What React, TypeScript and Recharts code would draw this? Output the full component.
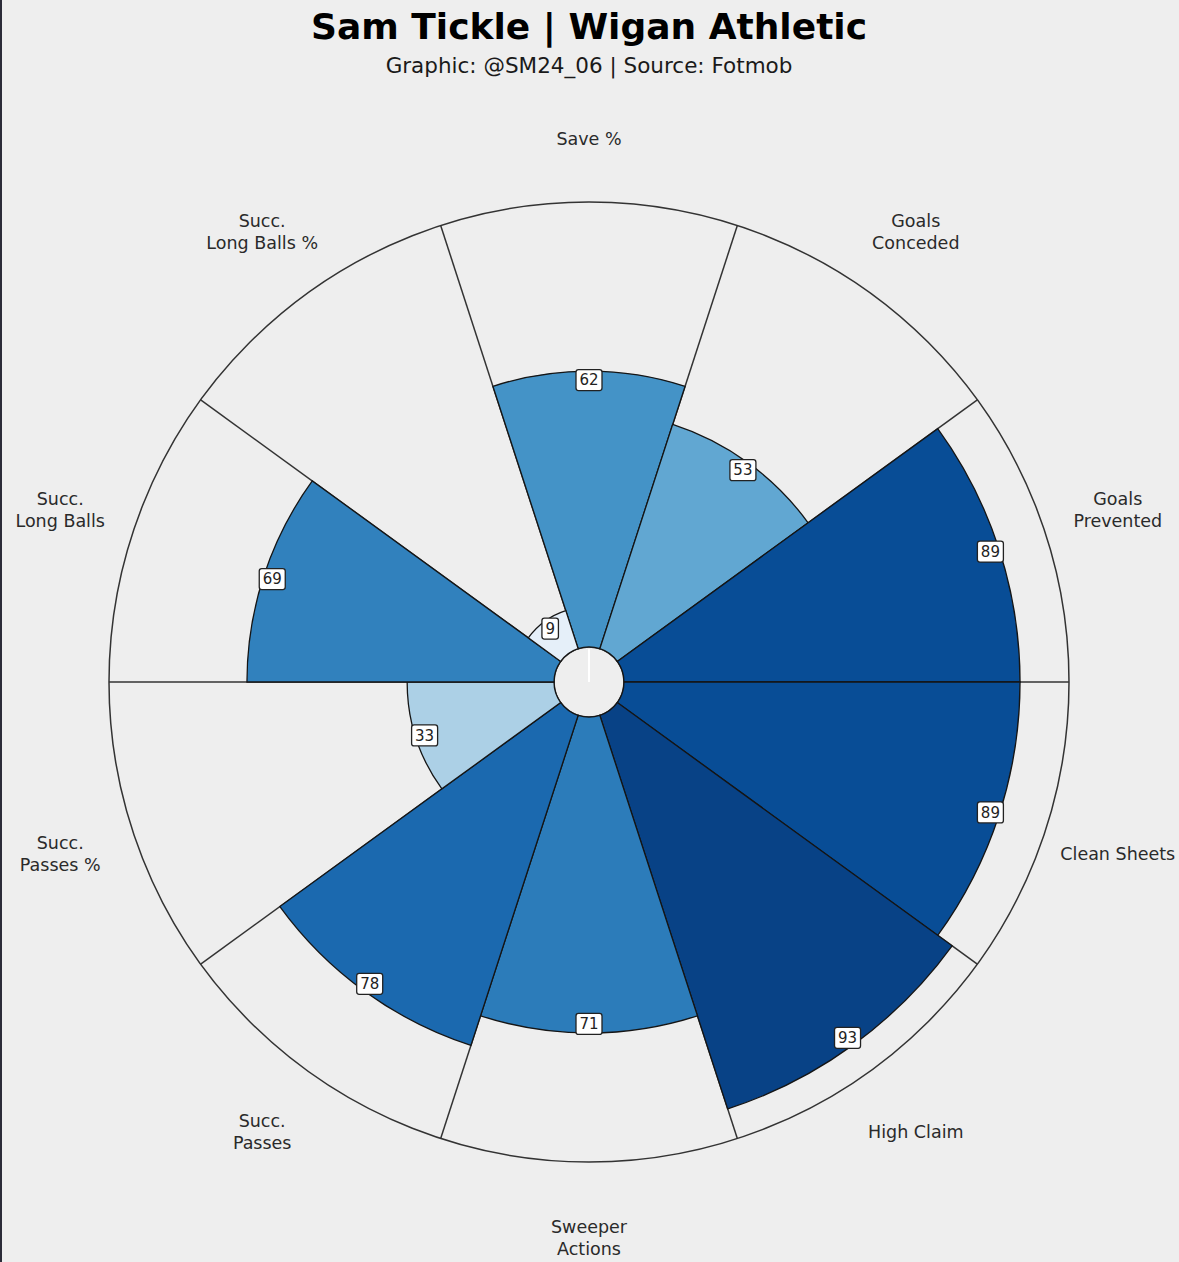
import React from 'react';
import { RadialBarChart, RadialBar, PolarAngleAxis, PolarRadiusAxis, PolarGrid, Sector, LabelList, Cell } from 'recharts';

const categories = ['Save %', 'Goals Conceded', 'Goals Prevented', 'Clean Sheets', 'High Claim', 'Sweeper Actions', 'Succ. Passes', 'Succ. Passes %', 'Succ. Long Balls', 'Succ. Long Balls %'];
const categoryLines = [['Save %'], ['Goals', 'Conceded'], ['Goals', 'Prevented'], ['Clean Sheets'], ['High Claim'], ['Sweeper', 'Actions'], ['Succ.', 'Passes'], ['Succ.', 'Passes %'], ['Succ.', 'Long Balls'], ['Succ.', 'Long Balls %']];
const percentiles = [62, 53, 89, 89, 93, 71, 78, 33, 69, 9];

const TITLE = 'Sam Tickle | Wigan Athletic';
const SUBTITLE = 'Graphic: @SM24_06 | Source: Fotmob';

const BLUES = ['#f7fbff', '#deebf7', '#c6dbef', '#9ecae1', '#6baed6', '#4292c6', '#2171b5', '#08519c', '#08306b'];
function hexToRgb(h: string) {
  return [parseInt(h.slice(1, 3), 16), parseInt(h.slice(3, 5), 16), parseInt(h.slice(5, 7), 16)];
}
function blues(t: number) {
  const x = Math.max(0, Math.min(1, t)) * (BLUES.length - 1);
  const i = Math.min(BLUES.length - 2, Math.floor(x));
  const f = x - i;
  const a = hexToRgb(BLUES[i]);
  const b = hexToRgb(BLUES[i + 1]);
  const c = a.map((v, k) => Math.round(v + (b[k] - v) * f));
  return `rgb(${c[0]},${c[1]},${c[2]})`;
}

const data = categories.map((name, i) => ({ name, value: percentiles[i] }));

const FONT = '"DejaVu Sans", sans-serif';
const RAD = Math.PI / 180;
const HALF_BAND = 360 / categories.length / 2;

const BarShape = (props: any) => {
  const { cx, cy, innerRadius, outerRadius, startAngle, endAngle, fill } = props;
  const mid = (startAngle + endAngle) / 2;
  const isTop = Math.abs(Math.sin(mid * RAD) - 1) < 1e-3;
  return (
    <g>
      <Sector
        cx={cx}
        cy={cy}
        innerRadius={innerRadius}
        outerRadius={outerRadius}
        startAngle={startAngle}
        endAngle={endAngle}
        fill={fill}
        stroke="#151515"
        strokeWidth={1.3}
      />
      {isTop ? (
        <line x1={cx} y1={cy} x2={cx} y2={cy - innerRadius + 2} stroke="#ffffff" strokeWidth={2} />
      ) : null}
    </g>
  );
};

const ValueLabel = (props: any) => {
  const vb = props.viewBox || {};
  const { cx, cy, outerRadius, startAngle, endAngle } = vb;
  if (cx == null) return null;
  const mid = (startAngle + endAngle) / 2;
  const r = outerRadius - 9;
  const x = cx + r * Math.cos(-mid * RAD);
  const y = cy + r * Math.sin(-mid * RAD);
  const txt = String(props.value);
  const w = txt.length * 9.5 + 7;
  const h = 21;
  return (
    <g>
      <rect x={x - w / 2} y={y - h / 2} width={w} height={h} rx={2.5} ry={2.5} fill="#ffffff" stroke="#222" strokeWidth={1.3} />
      <text x={x} y={y + 5.3} textAnchor="middle" fontFamily={FONT} fontSize={15} fill="#222">
        {txt}
      </text>
    </g>
  );
};

const AngleTick = (props: any) => {
  const { payload, cx, cy, index } = props;
  const i = categories.indexOf(payload.value);
  const lines = categoryLines[i >= 0 ? i : index] || [String(payload.value)];
  const angle = payload.coordinate + HALF_BAND;
  const r = 556;
  const x = cx + r * Math.cos(-angle * RAD);
  const y = cy + r * Math.sin(-angle * RAD);
  const lh = 22;
  const nudge = lines.length === 1 && Math.sin(angle * RAD) > 0.95 ? 13 : 0;
  const y0 = y - ((lines.length - 1) * lh) / 2 + 6 + nudge;
  return (
    <text textAnchor="middle" fontFamily={FONT} fontSize={17.5} fill="#2a2a2a">
      {lines.map((l, k) => (
        <tspan key={k} x={x} y={y0 + k * lh}>
          {l}
        </tspan>
      ))}
    </text>
  );
};

const gridAngles = [0, 36, 72, 108, 144, 180, 216, 252, 288, 324];

export default function App() {
  return (
    <div style={{ position: 'fixed', left: 0, top: 0, width: 1179, height: 1262, background: '#eeeeee', overflow: 'hidden' }}>
      <RadialBarChart
        width={1179}
        height={1262}
        data={data}
        cx={589}
        cy={682}
        innerRadius={35}
        outerRadius={480}
        startAngle={72}
        endAngle={-288}
        layout="centric"
        barCategoryGap={0}
        barGap={0}
        margin={{ top: 0, right: 0, bottom: 0, left: 0 }}
      >
        <PolarGrid gridType="circle" polarRadius={[35, 480]} polarAngles={gridAngles} stroke="#333333" strokeWidth={1.5} />
        <PolarAngleAxis dataKey="name" type="category" tick={<AngleTick />} tickLine={false} axisLine={false} />
        <PolarRadiusAxis type="number" domain={[0, 100]} tick={false} axisLine={false} tickLine={false} />
        <RadialBar dataKey="value" isAnimationActive={false} shape={<BarShape />}>
          {data.map((d, i) => (
            <Cell key={i} fill={blues(d.value / 100)} />
          ))}
          <LabelList dataKey="value" content={<ValueLabel />} />
        </RadialBar>
      </RadialBarChart>
      <svg width={1179} height={90} style={{ position: 'absolute', left: 0, top: 0 }}>
        <text x={589} y={38.5} textAnchor="middle" fontFamily={FONT} fontWeight="bold" fontSize={36} fill="#000">
          {TITLE}
        </text>
        <text x={589} y={73} textAnchor="middle" fontFamily={FONT} fontSize={21.5} fill="#1a1a1a">
          {SUBTITLE}
        </text>
      </svg>
      <div style={{ position: 'absolute', left: 0, top: 0, width: 2, height: 1262, background: '#2b2b38' }} />
    </div>
  );
}
